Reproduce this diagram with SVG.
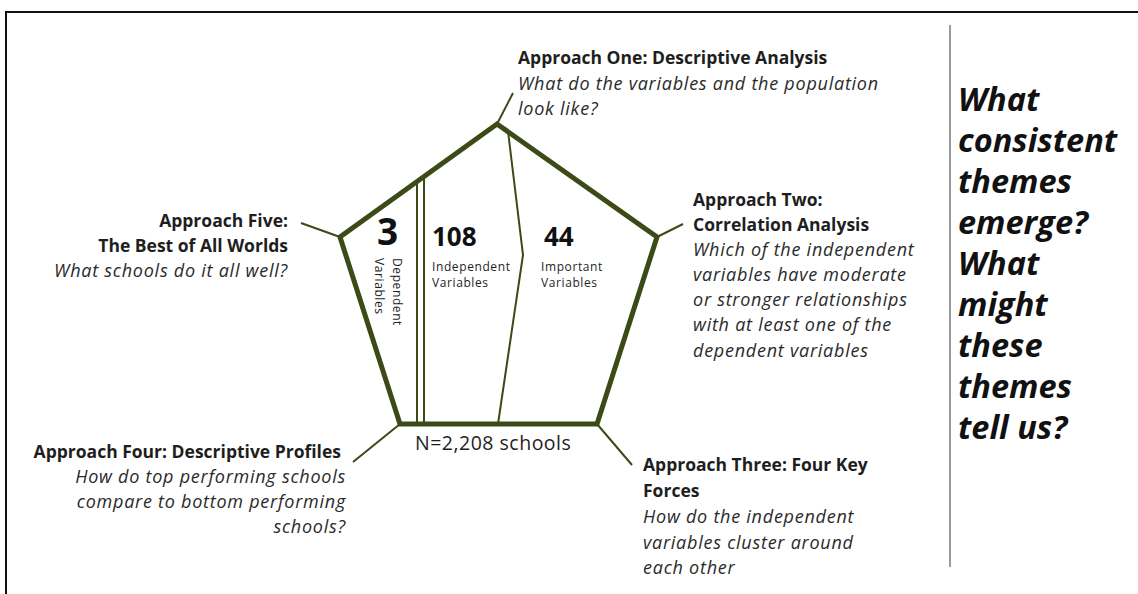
<svg xmlns="http://www.w3.org/2000/svg" width="1138" height="594" viewBox="0 0 1138 594">
<style>
.b{font-family:"Open Sans","Liberation Sans",sans-serif;font-weight:bold;font-size:17.5px;fill:#1e1e1e}
.i{font-family:"Open Sans","Liberation Sans",sans-serif;font-style:italic;font-size:18px;letter-spacing:0.75px;fill:#2a2a2a}
.r{font-family:"Open Sans","Liberation Sans",sans-serif;font-size:19.5px;letter-spacing:0.5px;fill:#1e1e1e}
.s{font-family:"Open Sans","Liberation Sans",sans-serif;font-size:12px;letter-spacing:0.6px;fill:#1e1e1e}
.big{font-family:"Open Sans","Liberation Sans",sans-serif;font-weight:bold;fill:#111}
.q{font-family:"Open Sans","Liberation Sans",sans-serif;font-weight:bold;font-style:italic;font-size:32.5px;fill:#111}
.c{stroke:#3b4a16;stroke-width:2;fill:none}
</style>
<rect width="1138" height="594" fill="#fff"/>
<path d="M6 594 V12 H1138" fill="none" stroke="#111" stroke-width="2"/>
<line x1="950" y1="25" x2="950" y2="567" stroke="#777" stroke-width="1.5"/>
<g id="connectors">
<line class="c" x1="497" y1="124" x2="513" y2="93"/>
<line class="c" x1="657" y1="237" x2="683" y2="224"/>
<line class="c" x1="340" y1="237" x2="301" y2="223"/>
<line class="c" x1="400" y1="424" x2="353" y2="462"/>
<line class="c" x1="597" y1="424" x2="632" y2="465"/>
</g>
<g id="pentagon">
<polygon points="497,124 657,237 597,424 400,424 340,237" fill="#fff" stroke="#3b4a16" stroke-width="5" stroke-linejoin="miter"/>
<line class="c" x1="417" y1="183" x2="417" y2="424"/>
<line class="c" x1="424" y1="178" x2="424" y2="424"/>
<polyline class="c" points="508,131 523,255 498,424"/>
<text class="big" x="377" y="245" font-size="37">3</text>
<text class="s" transform="translate(393,258) rotate(90)">Dependent</text>
<text class="s" transform="translate(375,258) rotate(90)">Variables</text>
<text class="big" x="432" y="246" font-size="26">108</text>
<text class="s" x="432" y="271">Independent</text>
<text class="s" x="432" y="287">Variables</text>
<text class="big" x="544" y="246" font-size="26">44</text>
<text class="s" x="541" y="271">Important</text>
<text class="s" x="541" y="287">Variables</text>
<text class="r" x="415" y="450">N=2,208 schools</text>
</g>
<g id="approach-one">
<text class="b" x="518" y="64">Approach One: Descriptive Analysis</text>
<text class="i" x="518" y="90">What do the variables and the population</text>
<text class="i" x="518" y="115">look like?</text>
</g>
<g id="approach-two">
<text class="b" x="693" y="206">Approach Two:</text>
<text class="b" x="693" y="231">Correlation Analysis</text>
<text class="i" x="693" y="256">Which of the independent</text>
<text class="i" x="693" y="281">variables have moderate</text>
<text class="i" x="693" y="306">or stronger relationships</text>
<text class="i" x="693" y="331">with at least one of the</text>
<text class="i" x="693" y="357">dependent variables</text>
</g>
<g id="approach-three">
<text class="b" x="643" y="471">Approach Three: Four Key</text>
<text class="b" x="643" y="497">Forces</text>
<text class="i" x="643" y="523">How do the independent</text>
<text class="i" x="643" y="549">variables cluster around</text>
<text class="i" x="643" y="574">each other</text>
</g>
<g id="approach-four" text-anchor="end">
<text class="b" x="341" y="458">Approach Four: Descriptive Profiles</text>
<text class="i" x="346" y="483">How do top performing schools</text>
<text class="i" x="346" y="508">compare to bottom performing</text>
<text class="i" x="346" y="533">schools?</text>
</g>
<g id="approach-five" text-anchor="end">
<text class="b" x="288" y="227">Approach Five:</text>
<text class="b" x="288" y="252">The Best of All Worlds</text>
<text class="i" x="288" y="277">What schools do it all well?</text>
</g>
<g id="questions">
<text class="q" x="958" y="111">What</text>
<text class="q" x="958" y="152">consistent</text>
<text class="q" x="958" y="193">themes</text>
<text class="q" x="958" y="234">emerge?</text>
<text class="q" x="958" y="275">What</text>
<text class="q" x="958" y="316">might</text>
<text class="q" x="958" y="357">these</text>
<text class="q" x="958" y="398">themes</text>
<text class="q" x="958" y="439">tell us?</text>
</g>
</svg>
